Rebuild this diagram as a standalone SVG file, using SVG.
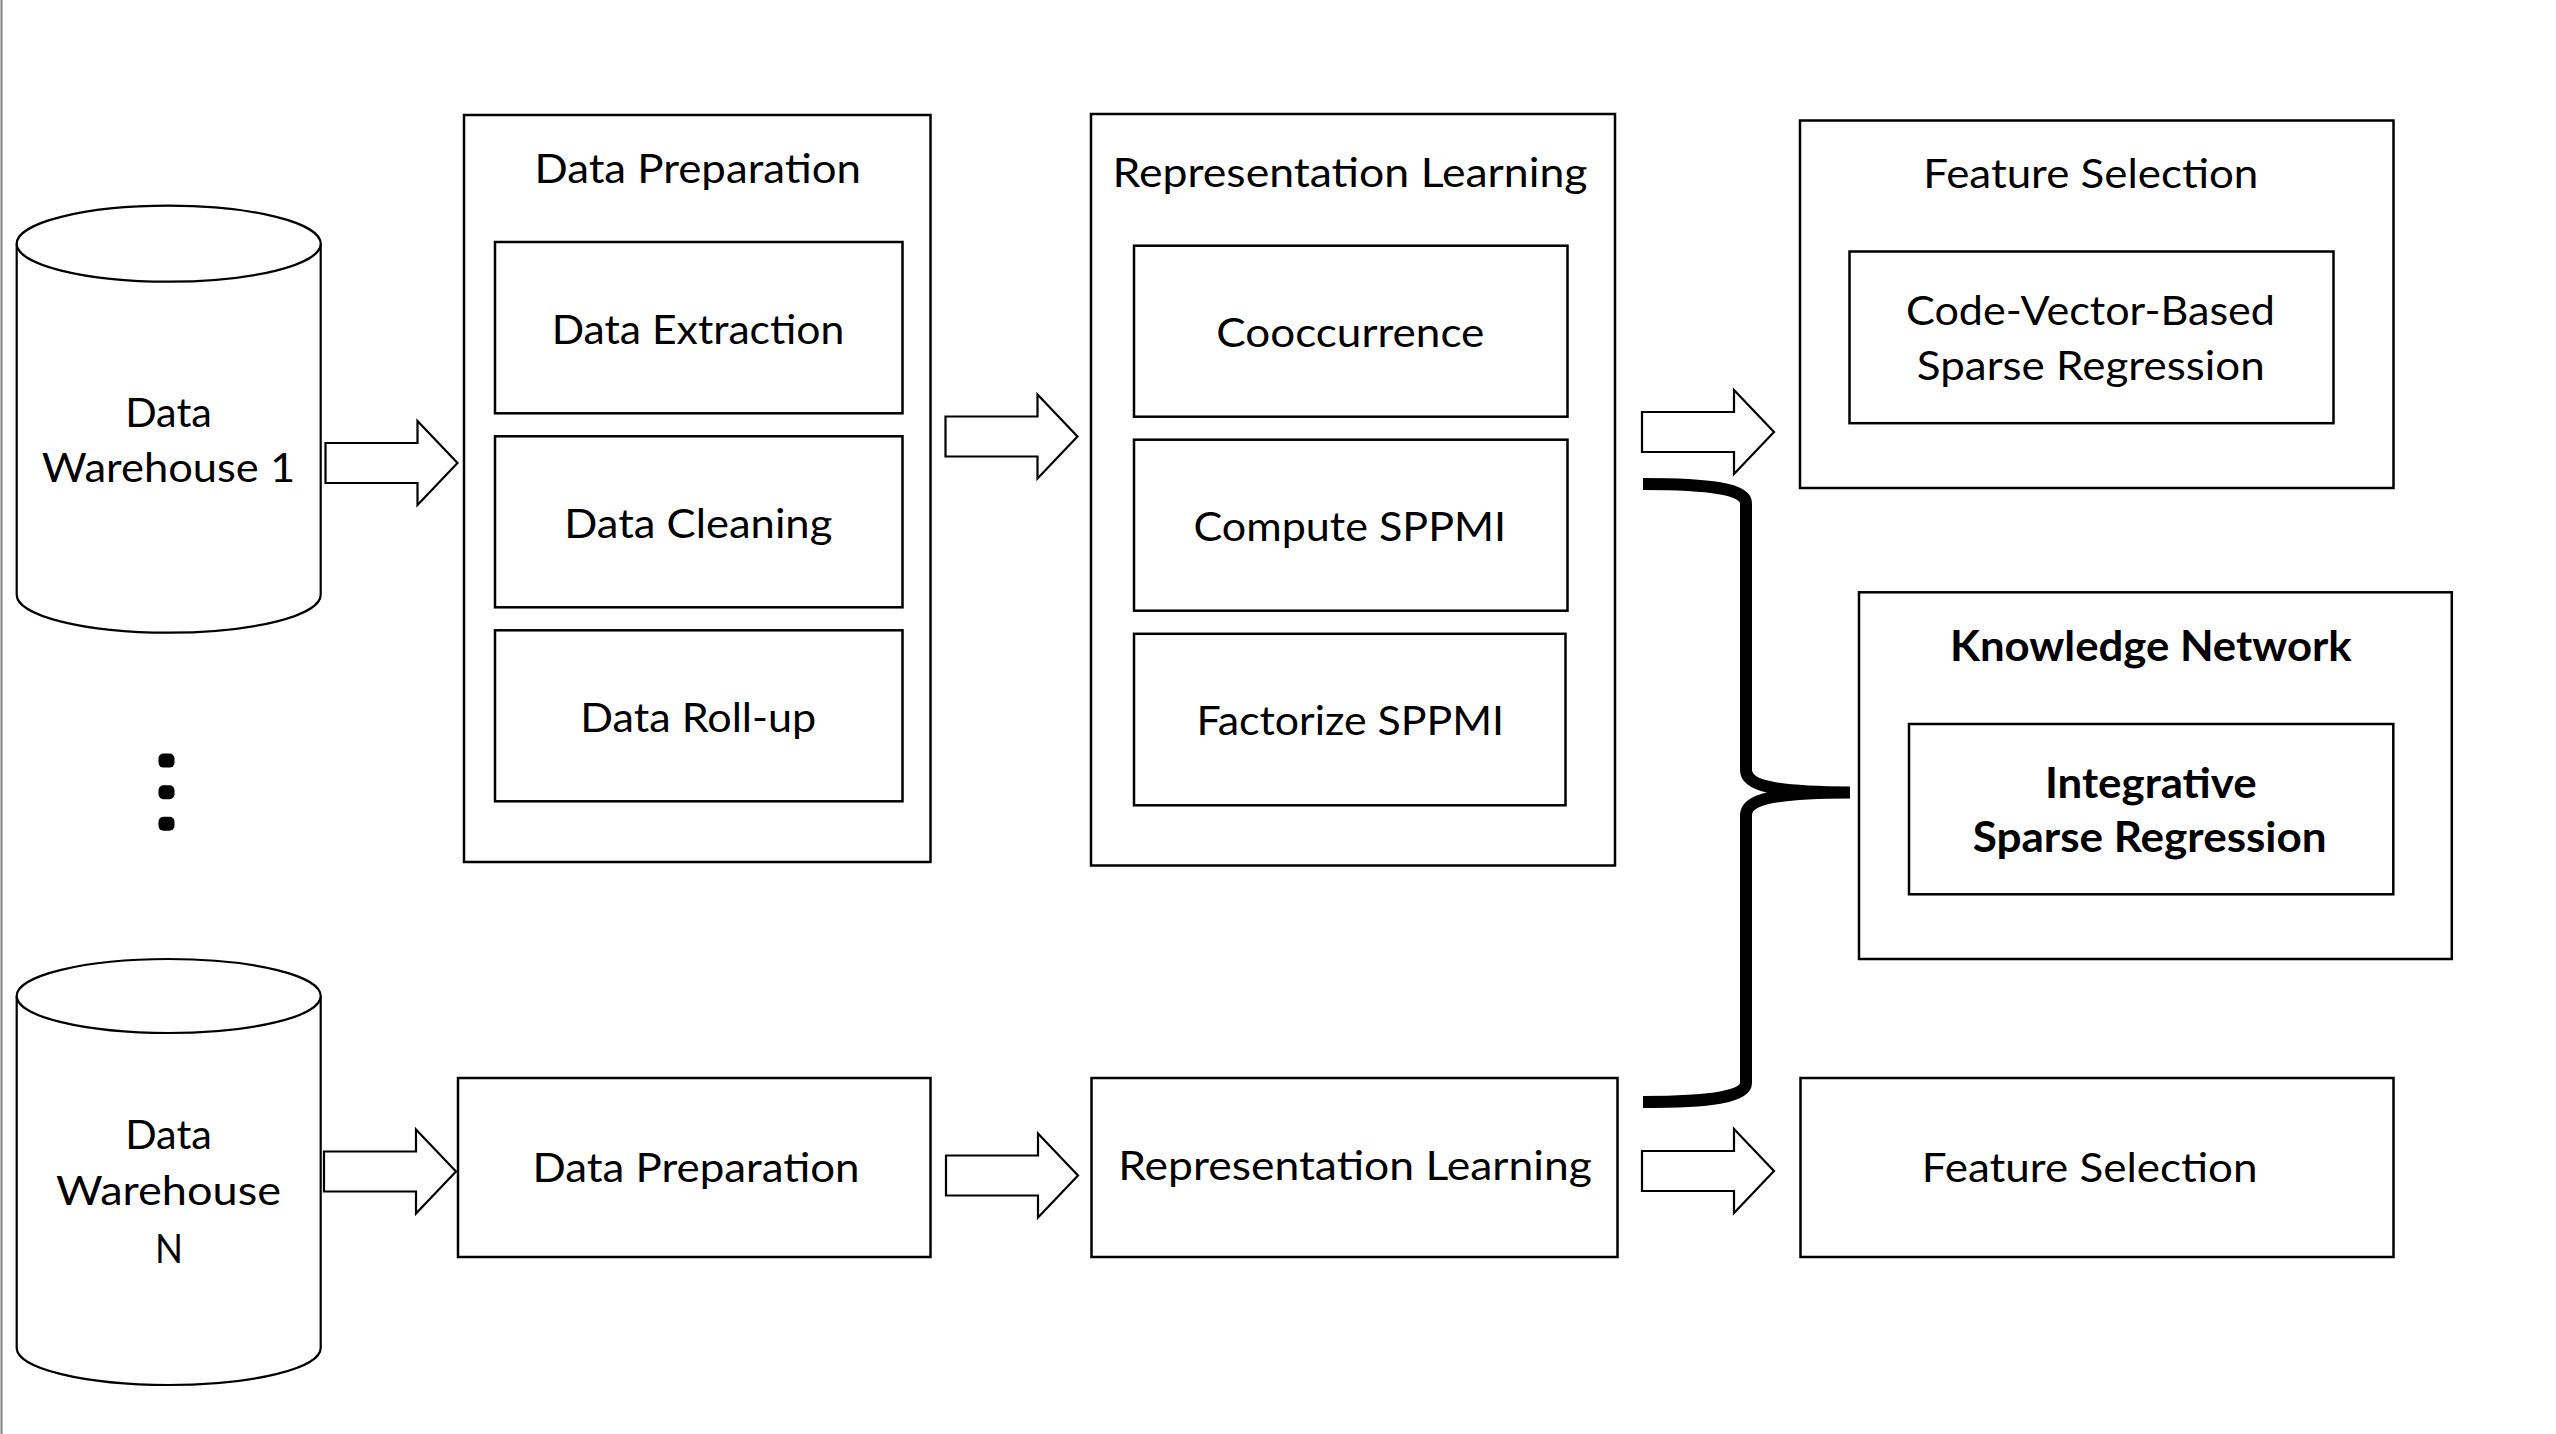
<svg xmlns="http://www.w3.org/2000/svg" xmlns:xlink="http://www.w3.org/1999/xlink" width="2556" height="1434" viewBox="0 0 2556 1434">
<style>
.box{fill:#fff;stroke:#000;stroke-width:2.5}
.cyl{fill:#fff;stroke:#000;stroke-width:2.2}
.arrow{fill:#fff;stroke:#000;stroke-width:2.2;stroke-linejoin:miter}
.brace{fill:none;stroke:#000;stroke-width:12}
text{font-family:Lato,"Open Sans","Liberation Sans",sans-serif;font-size:41.5px;fill:#000;text-anchor:middle}
.b{font-weight:700}
</style>
<defs>
<path id="blockArrow" class="arrow" d="M0,-20 H92 V-42 L132,0 L92,42 V20 H0 Z"/>
</defs>
<rect x="0" y="0" width="2556" height="1434" fill="#fff"/>
<line x1="1.5" y1="0" x2="1.5" y2="1434" stroke="#808080" stroke-width="2"/>

<g id="warehouse1">
<path class="cyl" d="M16.7,243.7 V594.7 A152,38 0 0,0 320.7,594.7 V243.7"/>
<ellipse class="cyl" cx="168.7" cy="243.7" rx="152" ry="38"/>
<text x="168.5" y="426.7" textLength="86.7" lengthAdjust="spacingAndGlyphs">Data</text>
<text x="168.5" y="482.3" textLength="253.3" lengthAdjust="spacingAndGlyphs">Warehouse 1</text>
</g>

<g id="ellipsis">
<rect x="158.5" y="753.6" width="16" height="14" rx="5"/>
<rect x="158.5" y="785.2" width="16" height="14" rx="5"/>
<rect x="158.5" y="816.7" width="16" height="14" rx="5"/>
</g>

<g id="warehouseN">
<path class="cyl" d="M16.7,996 V1348 A152,37 0 0,0 320.7,1348 V996"/>
<ellipse class="cyl" cx="168.7" cy="996" rx="152" ry="37"/>
<text x="168.5" y="1149.3" textLength="86.7" lengthAdjust="spacingAndGlyphs">Data</text>
<text x="168.5" y="1205" textLength="225" lengthAdjust="spacingAndGlyphs">Warehouse</text>
<text x="169" y="1263.3" textLength="28" lengthAdjust="spacingAndGlyphs">N</text>
</g>

<g id="dataPreparation1">
<rect class="box" x="464" y="115" width="466.5" height="747"/>
<text x="697.7" y="182.5" textLength="326.5" lengthAdjust="spacingAndGlyphs">Data Preparation</text>
</g>
<g id="dataExtraction">
<rect class="box" x="495" y="242" width="407.5" height="171.3"/>
<text x="698" y="344.3" textLength="292.6" lengthAdjust="spacingAndGlyphs">Data Extraction</text>
</g>
<g id="dataCleaning">
<rect class="box" x="495" y="436.3" width="407.5" height="171"/>
<text x="698.3" y="538.4" textLength="268" lengthAdjust="spacingAndGlyphs">Data Cleaning</text>
</g>
<g id="dataRollup">
<rect class="box" x="495" y="630.3" width="407.5" height="171"/>
<text x="698.3" y="731.9" textLength="236" lengthAdjust="spacingAndGlyphs">Data Roll-up</text>
</g>

<g id="representationLearning1">
<rect class="box" x="1091" y="114" width="524" height="751.5"/>
<text x="1350" y="186.6" textLength="475" lengthAdjust="spacingAndGlyphs">Representation Learning</text>
</g>
<g id="cooccurrence">
<rect class="box" x="1134" y="245.7" width="433.5" height="171"/>
<text x="1350.3" y="347.3" textLength="268" lengthAdjust="spacingAndGlyphs">Cooccurrence</text>
</g>
<g id="computeSPPMI">
<rect class="box" x="1134" y="439.7" width="433.5" height="171"/>
<text x="1349.8" y="540.8" textLength="312.6" lengthAdjust="spacingAndGlyphs">Compute SPPMI</text>
</g>
<g id="factorizeSPPMI">
<rect class="box" x="1134" y="633.8" width="431.5" height="171.5"/>
<text x="1350.3" y="734.8" textLength="307.6" lengthAdjust="spacingAndGlyphs">Factorize SPPMI</text>
</g>

<g id="featureSelection1">
<rect class="box" x="1800" y="120.5" width="593.5" height="367.5"/>
<text x="2090.8" y="188.3" textLength="335" lengthAdjust="spacingAndGlyphs">Feature Selection</text>
</g>
<g id="codeVectorSparseRegression">
<rect class="box" x="1849.5" y="251.5" width="484" height="171.7"/>
<text x="2090.5" y="325" textLength="369" lengthAdjust="spacingAndGlyphs">Code-Vector-Based</text>
<text x="2090.8" y="380" textLength="348" lengthAdjust="spacingAndGlyphs">Sparse Regression</text>
</g>

<g id="knowledgeNetwork">
<rect class="box" x="1859" y="592.3" width="592.8" height="366.7"/>
<text class="b" x="2150.8" y="660.7" textLength="401.7" lengthAdjust="spacingAndGlyphs">Knowledge Network</text>
</g>
<g id="integrativeSparseRegression">
<rect class="box" x="1909" y="724" width="484.3" height="170.3"/>
<text class="b" x="2150.8" y="798.3" textLength="211.7" lengthAdjust="spacingAndGlyphs">Integrative</text>
<text class="b" x="2149.7" y="851.7" textLength="354" lengthAdjust="spacingAndGlyphs">Sparse Regression</text>
</g>

<g id="dataPreparationN">
<rect class="box" x="458" y="1078" width="472.5" height="179"/>
<text x="696" y="1181.7" textLength="327" lengthAdjust="spacingAndGlyphs">Data Preparation</text>
</g>
<g id="representationLearningN">
<rect class="box" x="1091.5" y="1078" width="526" height="179"/>
<text x="1355" y="1180" textLength="473.7" lengthAdjust="spacingAndGlyphs">Representation Learning</text>
</g>
<g id="featureSelectionN">
<rect class="box" x="1800.5" y="1078" width="593" height="179"/>
<text x="2089.7" y="1182" textLength="335.8" lengthAdjust="spacingAndGlyphs">Feature Selection</text>
</g>

<g id="connectors">
<use xlink:href="#blockArrow" href="#blockArrow" transform="translate(325.5,463)"/>
<use xlink:href="#blockArrow" href="#blockArrow" transform="translate(945.5,436.5)"/>
<use xlink:href="#blockArrow" href="#blockArrow" transform="translate(1642,432)"/>
<use xlink:href="#blockArrow" href="#blockArrow" transform="translate(324,1171.5)"/>
<use xlink:href="#blockArrow" href="#blockArrow" transform="translate(946,1175.5)"/>
<use xlink:href="#blockArrow" href="#blockArrow" transform="translate(1642,1171)"/>
<path class="brace" d="M1643,484 C1710,484 1746,489 1746,503 L1746,770 C1746,786 1775,792.5 1850,792.5 M1850,792.5 C1775,792.5 1746,799 1746,815 L1746,1083 C1746,1097 1710,1102 1643,1102"/>
</g>
</svg>
